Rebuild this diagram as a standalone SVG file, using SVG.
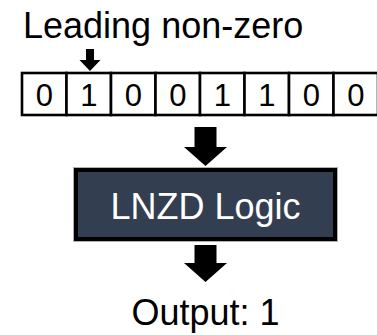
<svg xmlns="http://www.w3.org/2000/svg" width="377" height="335" viewBox="0 0 377 335">
  <defs>
    <style>
      .lbl { font-family: "Liberation Sans", Arial, sans-serif; fill: #000; }
      .cell rect { fill: #fff; stroke: #000; stroke-width: 2.6; }
      .cell text { font-family: "Liberation Sans", Arial, sans-serif; font-size: 31px; text-anchor: middle; fill: #000; }
      .arrow { fill: #000; }
    </style>
  </defs>

  <!-- caption above the bit row -->
  <g id="caption">
    <text class="lbl" x="23" y="38" font-size="36">Leading non-zero</text>
  </g>

  <!-- 8-bit input register -->
  <g id="bits" class="cell">
    <rect x="22" y="73" width="44.5" height="42"/>
    <rect x="66.5" y="73" width="44.5" height="42"/>
    <rect x="111" y="73" width="44.5" height="42"/>
    <rect x="155.5" y="73" width="44.5" height="42"/>
    <rect x="200" y="73" width="44.5" height="42"/>
    <rect x="244.5" y="73" width="44.5" height="42"/>
    <rect x="289" y="73" width="44.5" height="42"/>
    <rect x="333.5" y="73" width="44.5" height="42"/>
    <text x="44.25" y="106">0</text>
    <text x="88.75" y="106">1</text>
    <text x="133.25" y="106">0</text>
    <text x="177.75" y="106">0</text>
    <text x="222.25" y="106">1</text>
    <text x="266.75" y="106">1</text>
    <text x="311.25" y="106">0</text>
    <text x="355.75" y="106">0</text>
  </g>

  <!-- logic block -->
  <g id="lnzd">
    <rect x="73.5" y="167.5" width="264" height="74" fill="none" stroke="#b0b0b0" stroke-width="1"/>
    <rect x="76" y="170" width="259" height="69" fill="#333f50" stroke="#000" stroke-width="4"/>
    <text x="205.5" y="219" font-family="Liberation Sans, Arial, sans-serif" font-size="36" text-anchor="middle" fill="#fff">LNZD Logic</text>
  </g>

  <!-- result -->
  <g id="output">
    <text class="lbl" x="205.5" y="325" font-size="36" text-anchor="middle">Output: 1</text>
  </g>

  <!-- connectors -->
  <g id="connectors" class="arrow">
    <polygon points="86,49 94,49 94,60 100.5,60 90,71 79.5,60 86,60"/>
    <polygon points="194.5,127 216.5,127 216.5,147 227,147 205.5,166 184,147 194.5,147"/>
    <polygon points="194.5,245 216.5,245 216.5,263 227,263 205.5,282 184,263 194.5,263"/>
  </g>
</svg>
